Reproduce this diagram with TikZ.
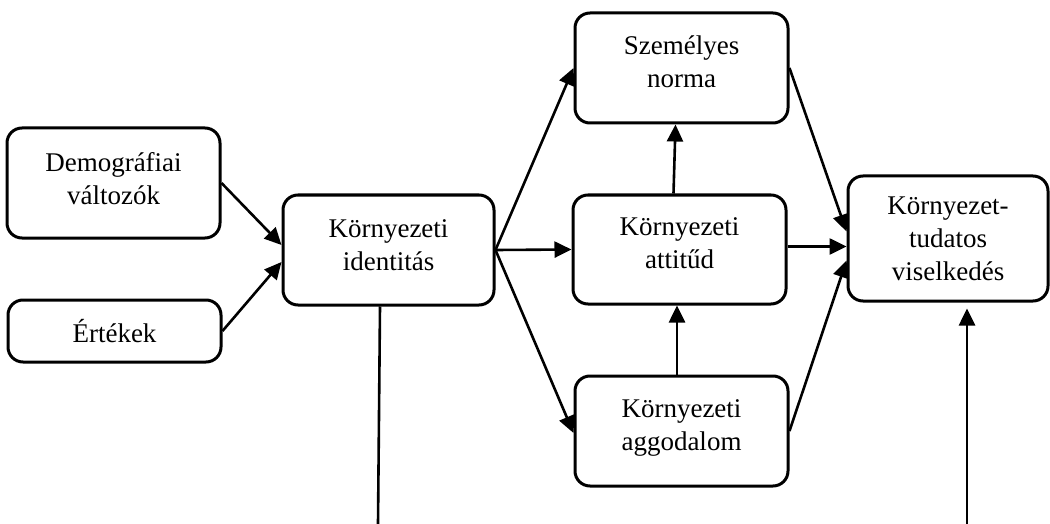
\documentclass[tikz,border=0pt]{standalone}
\usepackage{fontspec}
\setmainfont{Liberation Serif}
\usetikzlibrary{arrows.meta,calc}
\begin{document}
\begin{tikzpicture}[x=0.5pt,y=-0.5pt,
  box/.style={draw,line width=1.5pt,rounded corners=7.5pt,align=center,
    inner sep=0pt,font=\fontsize{13.5}{16.5}\selectfont},
  conn/.style={line width=1.3pt},
  arr/.style={conn,-{Triangle[length=8.5pt,width=8pt]}}]
\useasboundingbox (0,0) rectangle (1050,524);
\node[box,minimum width=106.5pt,minimum height=55pt] (demo) at (113.5,183) {Demográfiai\\változók\rule[-5pt]{0pt}{0pt}};
\node[box,minimum width=106.5pt,minimum height=31pt] (ert) at (114.5,331) {Értékek};
\node[box,minimum width=105.5pt,minimum height=55pt] (ident) at (388.5,250) {Környezeti\\identitás\rule[-5pt]{0pt}{0pt}};
\node[box,minimum width=106.5pt,minimum height=55pt] (szem) at (681.5,68) {Személyes\\norma\rule[-6pt]{0pt}{0pt}};
\node[box,minimum width=106.5pt,minimum height=54.5pt] (att) at (679.5,249.5) {Környezeti\\attitűd\rule[-6pt]{0pt}{0pt}};
\node[box,minimum width=106.5pt,minimum height=55pt] (agg) at (681.5,431) {Környezeti\\aggodalom\rule[-6pt]{0pt}{0pt}};
\node[box,minimum width=100pt,minimum height=62.5pt] (vis) at (948,238.5) {Környezet-\\tudatos\\viselkedés};
\coordinate (identend) at (378,524);
\coordinate (visstart) at (967,524);
\draw[arr] (demo.east) -- ($(ident.west)+(0,-5)$);
\draw[arr] (ert.east) -- ($(ident.west)+(0,12)$);
\draw[arr] (ident.east) -- (szem.west);
\draw[arr] (ident.east) -- (att.west);
\draw[arr] (ident.east) -- ($(agg.west)+(0,2)$);
\draw[arr] ($(att.north)+(-6,0)$) -- ($(szem.south)+(-6,0)$);
\draw[arr] ($(agg.north)+(-4.5,0)$) -- ($(att.south)+(-2.5,0)$);
\draw[arr] (szem.east) -- ($(vis.west)+(0,-7)$);
\draw[arr] ($(att.east)+(0,-3)$) -- ($(vis.west)+(0,8)$);
\draw[arr] (agg.east) -- ($(vis.west)+(0,22)$);
\draw[conn] ($(ident.south)+(-8.5,0)$) -- (identend);
\draw[arr] (visstart) -- ($(vis.south)+(19,6)$);
\end{tikzpicture}
\end{document}
